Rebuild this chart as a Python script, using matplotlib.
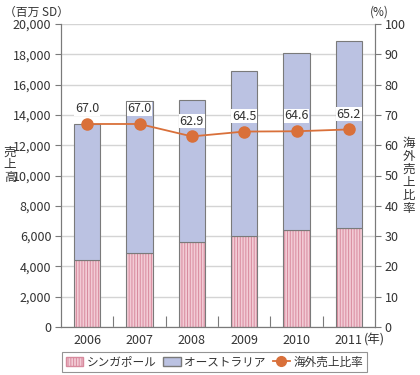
import matplotlib.pyplot as plt
from matplotlib.lines import Line2D
from matplotlib.patches import Patch
import numpy as np

plt.rcParams['font.family'] = ['Noto Sans CJK JP', 'DejaVu Sans']
plt.rcParams['hatch.linewidth'] = 0.7

years = ['2006', '2007', '2008', '2009', '2010', '2011']
singapore = [4400, 4900, 5580, 6000, 6420, 6550]
total = [13400, 14900, 14980, 16900, 18100, 18850]
australia = [t - s for t, s in zip(total, singapore)]
ratio = [67.0, 67.0, 62.9, 64.5, 64.6, 65.2]

pink = '#f2cbd5'
pink_hatch = '#d88a9e'
blue = '#bbc2e2'
orange = '#d9703a'
edge = '#7a7a7a'
txt = '#333333'

fig = plt.figure(figsize=(4.2, 3.75), dpi=100)
ax = fig.add_axes([61/420, 48/375, 314/420, 303/375])
ax2 = ax.twinx()

x = np.arange(len(years))
ax.bar(x, singapore, width=0.5, color=pink, edgecolor=pink_hatch, hatch='||||||',
       linewidth=0, zorder=2)
ax.bar(x, singapore, width=0.5, color='none', edgecolor=edge, linewidth=0.8, zorder=3)
ax.bar(x, australia, bottom=singapore, width=0.5, color=blue, edgecolor=edge,
       linewidth=0.8, zorder=3)

ax.set_xlim(-0.5, 5.5)
ax.set_ylim(0, 20000)
ax.set_yticks(range(0, 20001, 2000))
ax.set_yticklabels([f'{v:,}' for v in range(0, 20001, 2000)])
ax.grid(axis='y', color='#d4d4d4', linewidth=1, zorder=0)
ax.set_axisbelow(True)

ax.set_xticks(x)
ax.set_xticklabels(years)
ax.tick_params(axis='x', length=0, pad=5, labelsize=9, colors=txt)
ax.set_xticks(np.arange(0.5, 5.5, 1), minor=True)
ax.tick_params(axis='x', which='minor', direction='in', length=8, color=edge, width=0.8)
ax.tick_params(axis='y', length=4, color=edge, labelsize=9, colors=txt, pad=3)

for s in ['top']:
    ax.spines[s].set_visible(False)
    ax2.spines[s].set_visible(False)
for s in ['left', 'right', 'bottom']:
    ax.spines[s].set_color(edge)
    ax2.spines[s].set_color(edge)

ax2.plot(x, ratio, color=orange, linewidth=1.3, marker='o', markersize=8, zorder=5)
ax2.set_ylim(0, 100)
ax2.set_yticks(range(0, 101, 10))
ax2.tick_params(axis='y', length=4, color=edge, labelsize=9, colors=txt, pad=3)
for xi, r in zip(x, ratio):
    ax2.annotate(f'{r:.1f}', (xi, r), xytext=(0, 11), textcoords='offset points',
                 ha='center', va='center', fontsize=9, color=txt,
                 bbox=dict(boxstyle='square,pad=0.05', fc='white', ec='none'))

ax.annotate('(年)', xy=(5, 0), xycoords=('data', 'axes fraction'), xytext=(11, -5),
            textcoords='offset points', ha='left', va='top', fontsize=9, color=txt)

fig.text(4/420, 1 - 12/375, '（百万 SD）', ha='left', va='center', fontsize=8.5, color=txt)
fig.text(370/420, 1 - 12/375, '(%)', ha='left', va='center', fontsize=8.5, color=txt)
fig.text(10/420, 1 - 165/375, '\n'.join('売上高'), ha='center', va='center',
         fontsize=9, color=txt, linespacing=1.0)
fig.text(409/420, 1 - 176/375, '\n'.join('海外売上比率'), ha='center', va='center',
         fontsize=9, color=txt, linespacing=1.0)

handles = [
    Patch(facecolor=pink, edgecolor=pink_hatch, hatch='||||||', label='シンガポール'),
    Patch(facecolor=blue, edgecolor=edge, label='オーストラリア'),
    Line2D([], [], color=orange, marker='o', markersize=7, linewidth=1.3, label='海外売上比率'),
]
leg = fig.legend(handles=handles, loc='lower left', bbox_to_anchor=(62/420, 3/375), ncol=3,
                 fontsize=8.4, frameon=True, fancybox=False, edgecolor=edge,
                 handlelength=1.5, handletextpad=0.3, columnspacing=0.6,
                 borderpad=0.3, borderaxespad=0, labelcolor=txt)
leg.get_frame().set_linewidth(0.8)

fig.savefig('out.png', dpi=100)
